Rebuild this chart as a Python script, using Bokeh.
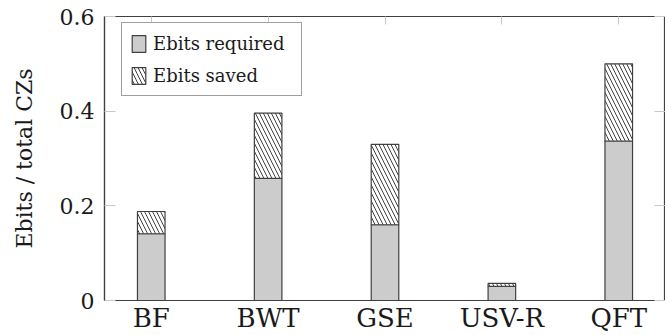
from bokeh.plotting import figure
from bokeh.models import ColumnDataSource, Range1d, FixedTicker, LinearAxis
from bokeh.transform import stack
from bokeh.embed import file_html
from bokeh.resources import INLINE

categories = ["BF", "BWT", "GSE", "USV-R", "QFT"]
ebits_required = [0.141, 0.258, 0.160, 0.030, 0.337]
ebits_saved = [0.047, 0.138, 0.170, 0.006, 0.163]
y_ticks = [0, 0.2, 0.4, 0.6]
y_tick_labels = ["0", "0.2", "0.4", "0.6"]

FONT = "DejaVu Serif"
DARK = "#404040"
TICK = "#c8c8c8"
TXT = "#1a1a1a"

src = ColumnDataSource(dict(
    x=list(range(len(categories))),
    required=ebits_required,
    saved=ebits_saved,
))

p = figure(width=665, height=335, output_backend="svg", toolbar_location=None,
           x_range=Range1d(-0.4, len(categories) - 0.6), y_range=Range1d(0, 0.6),
           min_border_left=104, min_border_top=16, min_border_right=0, min_border_bottom=34)
p.background_fill_color = "white"
p.border_fill_color = "white"
p.outline_line_color = DARK
p.outline_line_width = 1.2
p.xgrid.grid_line_color = None
p.ygrid.grid_line_color = None

p.vbar(x="x", width=0.236, bottom=0, top="required", source=src,
       fill_color="#cccccc", line_color=DARK, line_width=1.2,
       legend_label="Ebits required")
p.vbar(x="x", width=0.236, bottom=stack("required"), top=stack("required", "saved"), source=src,
       fill_color="white", line_color=DARK, line_width=1.2,
       hatch_pattern="\\", hatch_color=DARK, hatch_weight=1, hatch_scale=8,
       legend_label="Ebits saved")

# bottom axis
xa = p.xaxis[0]
xa.ticker = FixedTicker(ticks=list(range(len(categories))))
xa.major_label_overrides = {i: c for i, c in enumerate(categories)}
xa.major_tick_in = 0
xa.major_tick_out = 0
xa.minor_tick_line_color = None
xa.axis_line_color = DARK
xa.axis_line_width = 1.2
xa.major_label_standoff = 2
xa.major_label_text_font = FONT
xa.major_label_text_font_size = "26px"
xa.major_label_text_color = TXT

# left axis
ya = p.yaxis[0]
ya.ticker = FixedTicker(ticks=y_ticks)
ya.major_label_overrides = {t: l for t, l in zip(y_ticks, y_tick_labels)}
ya.major_tick_in = 11
ya.major_tick_out = 0
ya.major_tick_line_color = TICK
ya.minor_tick_line_color = None
ya.axis_line_color = DARK
ya.axis_line_width = 1.2
ya.major_label_standoff = 10
ya.major_label_text_font = FONT
ya.major_label_text_font_size = "22px"
ya.major_label_text_color = TXT
ya.axis_label = "Ebits / total CZs"
ya.axis_label_text_font = FONT
ya.axis_label_text_font_size = "22px"
ya.axis_label_text_font_style = "normal"
ya.axis_label_text_color = TXT
ya.axis_label_standoff = 20

# top and right axes: inward ticks only, no labels
x_idx = list(range(len(categories)))
top = LinearAxis(ticker=FixedTicker(ticks=x_idx),
                 major_label_overrides={i: "" for i in x_idx},
                 major_tick_in=8, major_tick_out=0, major_tick_line_color=TICK,
                 minor_tick_line_color=None, axis_line_color=None,
                 major_label_text_font_size="0px", major_label_standoff=0,
                 axis_label_standoff=0)
right = LinearAxis(ticker=FixedTicker(ticks=y_ticks),
                   major_label_overrides={t: "" for t in y_ticks},
                   major_tick_in=11, major_tick_out=0, major_tick_line_color=TICK,
                   minor_tick_line_color=None, axis_line_color=None,
                   major_label_text_font_size="0px", major_label_standoff=0,
                   axis_label_standoff=0)
p.add_layout(top, "above")
p.add_layout(right, "right")

lg = p.legend[0]
lg.location = (17, 204)
lg.label_text_font = FONT
lg.label_text_font_size = "18px"
lg.label_text_color = TXT
lg.glyph_width = 17
lg.glyph_height = 21
lg.label_height = 24
lg.label_width = 140
lg.label_standoff = 6
lg.spacing = 8
lg.padding = 8
lg.margin = 0
lg.border_line_color = DARK
lg.border_line_width = 1.2
lg.background_fill_alpha = 1.0

open("out.html", "w").write(file_html(p, INLINE))
